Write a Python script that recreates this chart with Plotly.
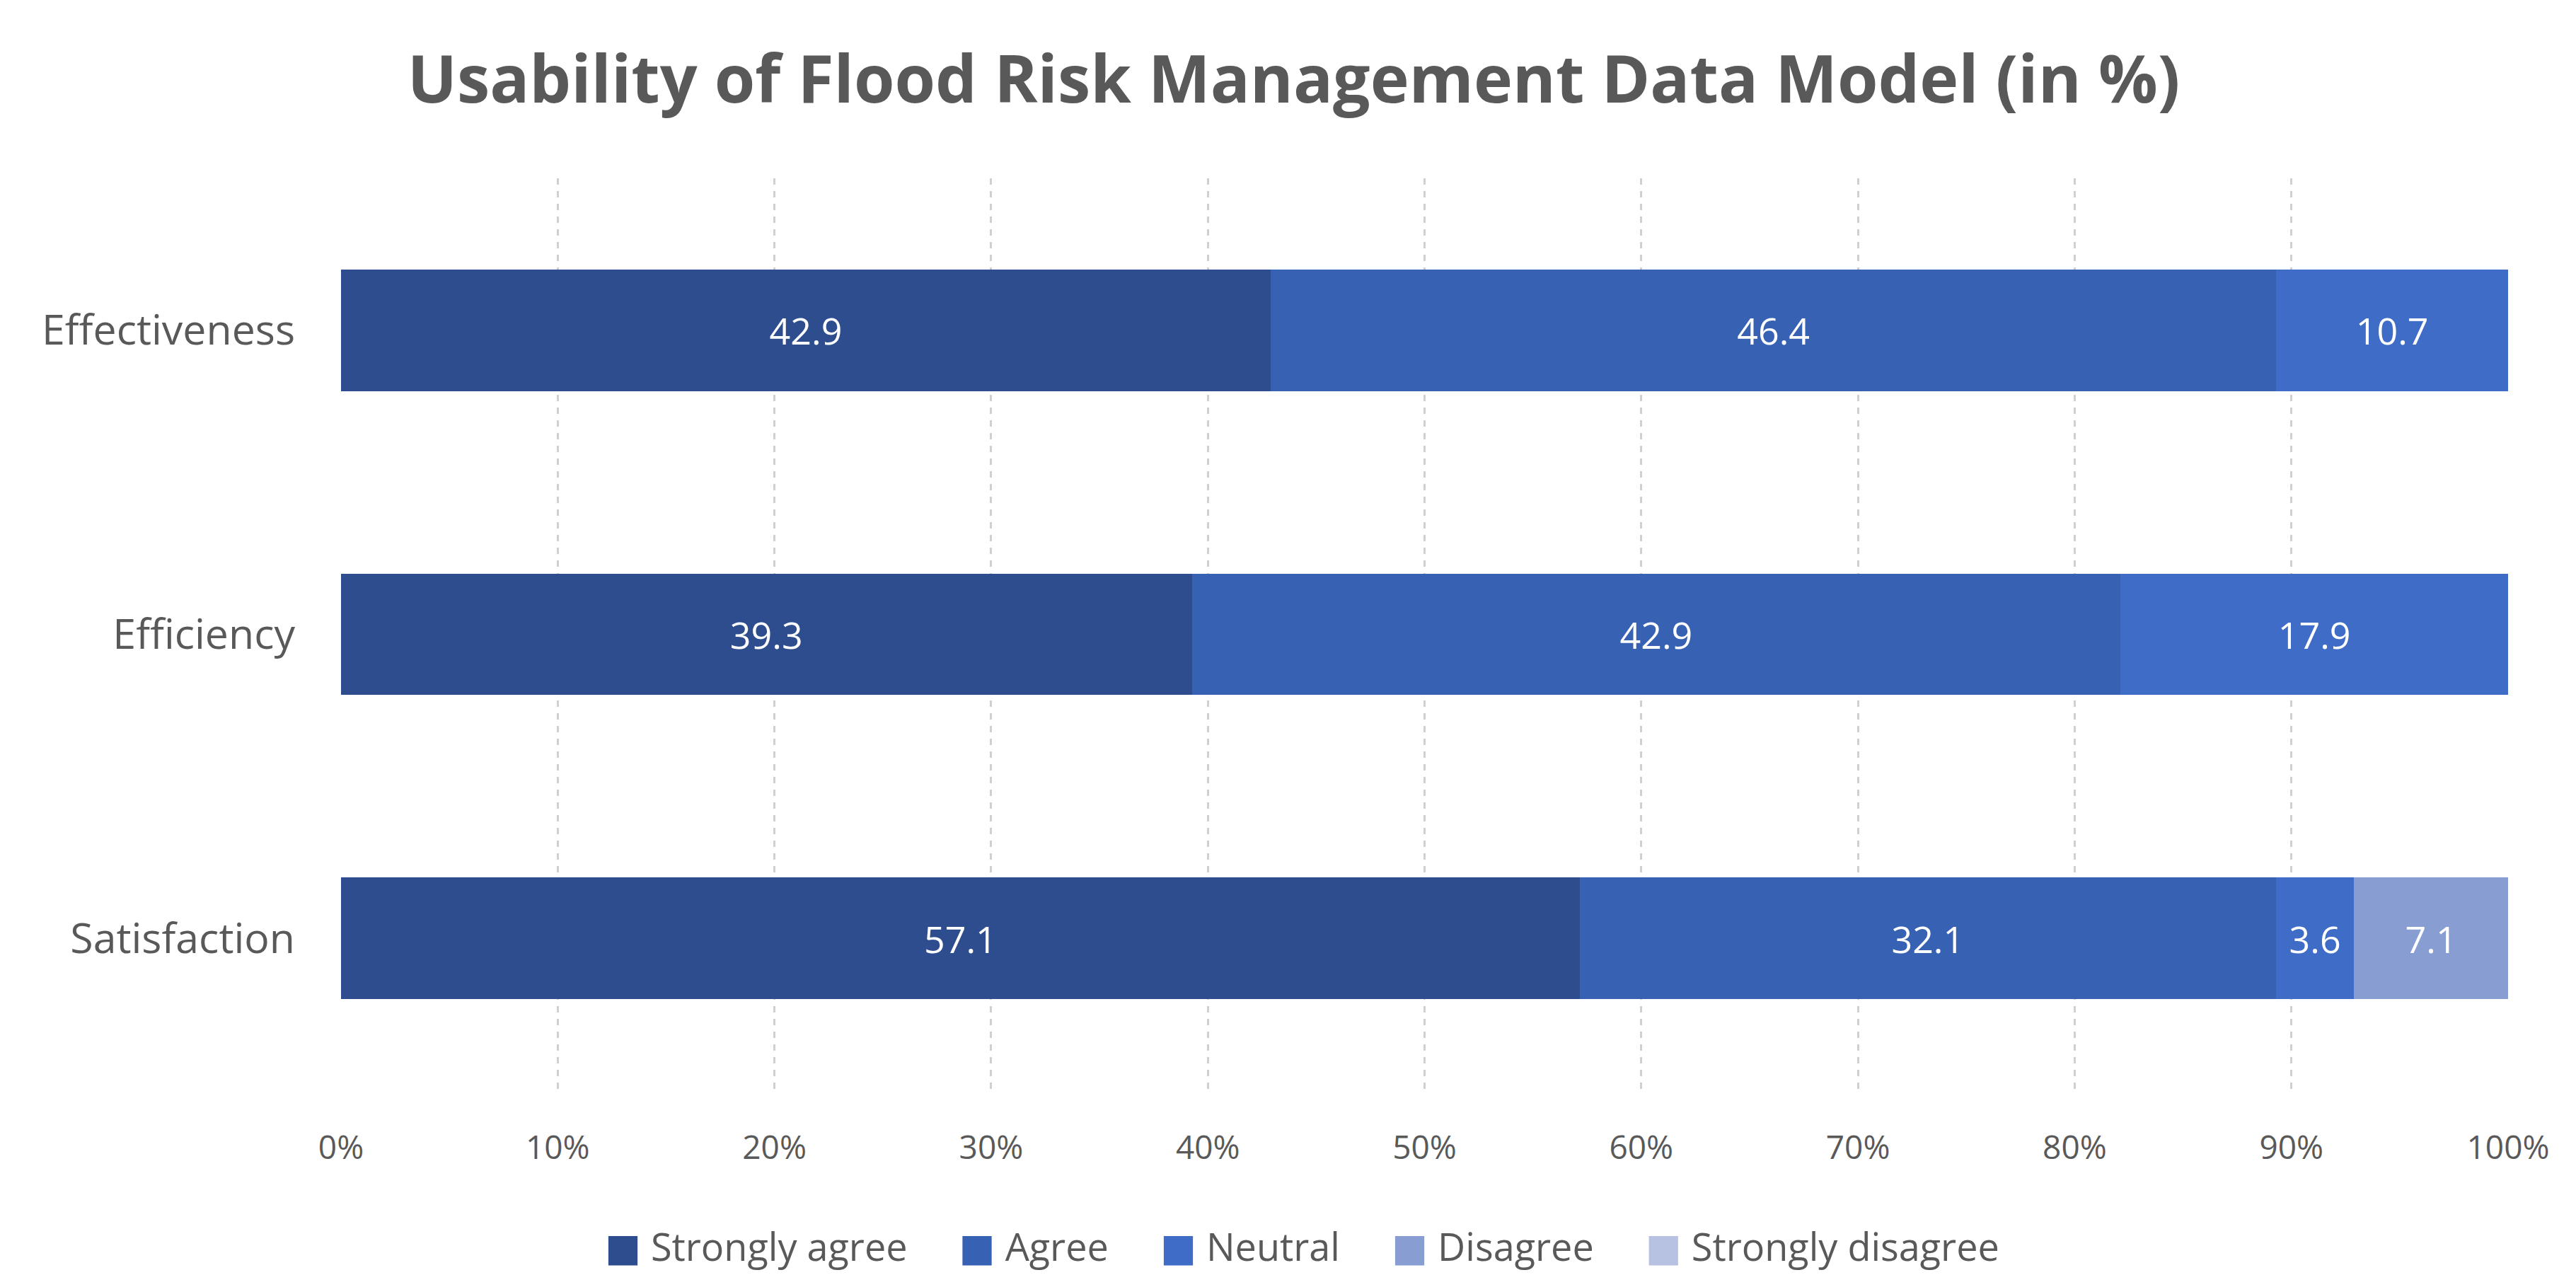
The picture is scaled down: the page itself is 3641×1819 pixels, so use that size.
import plotly.graph_objects as go

# survey results, percent of respondents
categories = ["Effectiveness", "Efficiency", "Satisfaction"]
responses = ["Strongly agree", "Agree", "Neutral", "Disagree", "Strongly disagree"]
strongly_agree = [42.9, 39.3, 57.1]
agree = [46.4, 42.9, 32.1]
neutral = [10.7, 17.9, 3.6]
disagree = [0, 0, 7.1]
strongly_disagree = [0, 0, 0]
x_ticks = [0, 10, 20, 30, 40, 50, 60, 70, 80, 90, 100]

series = [strongly_agree, agree, neutral, disagree, strongly_disagree]
colors = ["#2D4D8F", "#3761B3", "#3E6CC6", "#889DD2", "#B7C2E3"]

FONT = "Open Sans"
GREY = "#595959"
PAD = "\u00a0" * 2

fig = go.Figure()
for name, vals, color in zip(responses, series, colors):
    fig.add_trace(go.Bar(
        y=categories,
        x=vals,
        name=name,
        legendgroup=name,
        orientation="h",
        marker=dict(color=color, line=dict(width=0)),
        text=[f"{v:.1f}" if v > 0 else "" for v in vals],
        textposition="inside",
        insidetextanchor="middle",
        textangle=0,
        textfont=dict(family=FONT, size=52, color="white"),
        hoverinfo="x+y+name",
        showlegend=False,
    ))
    # legend entry: a big square glyph in the series colour, then the label
    fig.add_trace(go.Scatter(
        x=[None],
        y=[None],
        mode="markers",
        name=f'<span style="font-family:DejaVu Sans;color:{color}">\u25a0</span>'
             f"\u00a0{name}{PAD}",
        legendgroup=name,
        marker=dict(size=1, color="rgba(0,0,0,0)"),
        showlegend=True,
        hoverinfo="skip",
    ))

fig.update_layout(
    barmode="stack",
    barnorm="percent",
    bargap=0.6,
    width=3641,
    height=1819,
    paper_bgcolor="white",
    plot_bgcolor="white",
    margin=dict(l=474, r=104, t=244, b=286),
    title=dict(
        text="<b>Usability of Flood Risk Management Data Model (in %)</b>",
        x=0.5,
        xanchor="center",
        y=1 - 104 / 1819,
        yanchor="middle",
        font=dict(family=FONT, size=93, color=GREY),
    ),
    xaxis=dict(
        range=[0, 100],
        tickvals=x_ticks,
        ticktext=[f"{t}%" for t in x_ticks],
        showgrid=True,
        gridcolor="#D0D0D0",
        gridwidth=3,
        griddash="dash",
        zeroline=False,
        showline=False,
        ticks="",
        ticklabelstandoff=50,
        tickfont=dict(family=FONT, size=46, color=GREY),
    ),
    yaxis=dict(
        autorange="reversed",
        showgrid=False,
        ticks="",
        ticklabelstandoff=64,
        tickfont=dict(family=FONT, size=59, color=GREY),
    ),
    legend=dict(
        orientation="h",
        x=0.4425,
        xanchor="center",
        y=-(1753 - 1533) / 1289,
        yanchor="middle",
        font=dict(family=FONT, size=54, color=GREY),
        itemwidth=30,
        traceorder="normal",
    ),
    uniformtext=dict(minsize=30, mode="show"),
)

fig.write_html("out.html")
